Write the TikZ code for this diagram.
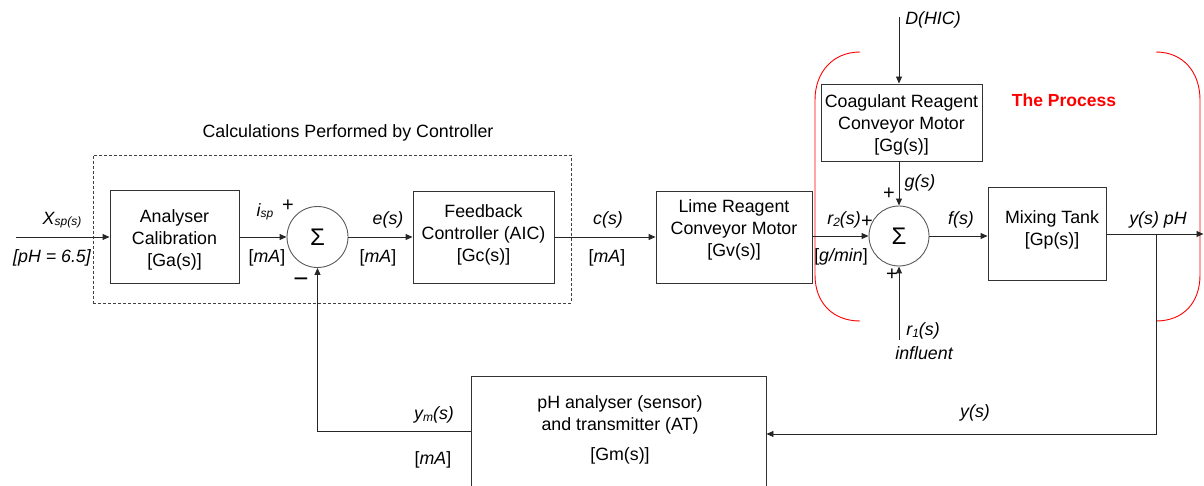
\documentclass[tikz,border=0pt]{standalone}
\usepackage{fontspec}
\setmainfont{Liberation Sans}
\usetikzlibrary{arrows.meta}
\newcommand\sumsign{{\fontsize{24}{24}\selectfont Σ}}
\newcommand\lowsub[1]{\raisebox{-1.5pt}{\fontsize{12}{12}\selectfont #1}}
\begin{document}
\begin{tikzpicture}[x=1pt,y=-1pt,
  every node/.style={font=\fontsize{17.8}{22}\selectfont, inner sep=0pt},
  blk/.style={draw=black!80, line width=0.9pt, align=center},
  sumnode/.style={circle, draw=black!65, line width=0.9pt, minimum size=61pt},
  wire/.style={draw=black!85, line width=0.9pt},
  arr/.style={wire, -{Triangle[length=7pt,width=6pt]}},
  lab/.style={font=\fontsize{17.8}{22}\selectfont\itshape},
  txt/.style={align=center},
  sgn/.style={font=\fontsize{20}{20}\selectfont},
  bracket/.style={draw=red, line width=0.9pt},
  dashbox/.style={draw=black!75, line width=0.8pt, dash pattern=on 3pt off 2pt}]
\useasboundingbox (0,0) rectangle (1204,486);
\clip (0,0) rectangle (1204,486);

% controller boundary
\node[dashbox, minimum width=478pt, minimum height=148pt] (calc) at (332,229) {};
\node (calctitle) at (348,133) {Calculations Performed by Controller};

% blocks
\node[blk, minimum width=129pt, minimum height=93pt] (ana) at (174.5,237) {};
\node[txt] (anatxt) at (174.5,239.5) {Analyser\\Calibration\\{[Ga(s)]}};
\node[sumnode] (s1) at (317.5,237) {\sumsign};
\node[blk, minimum width=141pt, minimum height=92pt] (fbc) at (483.5,237) {};
\node[txt] (fbctxt) at (483.5,234.5) {Feedback\\Controller (AIC)\\{[Gc(s)]}};
\node[blk, minimum width=156pt, minimum height=92pt] (lime) at (734,237) {};
\node[txt] (limetxt) at (734,230) {Lime Reagent\\Conveyor Motor\\{[Gv(s)]}};
\node[sumnode, minimum size=60pt] (s2) at (899,236) {\sumsign};
\node[blk, minimum width=161pt, minimum height=77pt] (coag) at (901.5,122.5) {};
\node[txt] (coagtxt) at (901.5,124.5) {Coagulant Reagent\\Conveyor Motor\\{[Gg(s)]}};
\node[blk, minimum width=118pt, minimum height=93pt] (mix) at (1047,234) {};
\node[txt] (mixtxt) at (1052,229.5) {Mixing Tank\\{[Gp(s)]}};
\node[blk, minimum width=295pt, minimum height=124pt] (pha) at (618.5,438) {};
\node[txt] (phatxt) at (620,430) {pH analyser (sensor)\\and transmitter (AT)\\[8pt]{[Gm(s)]}};

% the process boundary
\draw[bracket] (860,52) .. controls (833,52) and (815,72) .. (815,100) -- (815,275)
  .. controls (815,303) and (833,321) .. (860,321);
\draw[bracket] (1156,52) .. controls (1183,52) and (1200,72) .. (1200,100) -- (1200,275)
  .. controls (1200,303) and (1183,321) .. (1156,321);
\node[font=\fontsize{17.5}{20}\selectfont\bfseries, text=red] (proc) at (1064,100) {The Process};

% free ends
\coordinate (xin) at (16,237);
\coordinate (dtop) at (899,17);
\coordinate (rin) at (899,340);
\coordinate (yout) at (1203.5,234);
\coordinate (br) at (1156,234);
\coordinate (brl) at (1156,434);
\coordinate (fbl) at (317.5,431);

% signal paths
\draw[arr] (xin) -- (ana.west);
\draw[arr] (ana.east) -- (s1.west);
\draw[arr] (s1.east) -- (fbc.west);
\draw[arr] (fbc.east) -- (lime.west);
\draw[arr] (lime.east |- s2) -- (s2.west);
\draw[arr] (s2.east) -- (s2.east -| mix.west);
\draw[arr] (mix.east) -- (yout);
\draw[arr] (dtop) -- (dtop |- coag.north);
\draw[arr] (coag.south -| s2.north) -- (s2.north);
\draw[arr] (rin) -- (s2.south);
\draw[arr] (br) -- (brl) -- (brl -| pha.east);
\draw[arr] (fbl -| pha.west) -- (fbl) -- (s1.south);

% signal labels
\node[lab] (lxsp) at (62,220) {X\lowsub{sp(s)}};
\node[lab] (lph) at (52,258) {[pH = 6.5]};
\node[lab] (lisp) at (265,212) {i\lowsub{sp}};
\node[sgn] (p1) at (288,206) {+};
\node (lma1) at (267,258) {[\textit{mA}]};
\node[font=\fontsize{26}{26}\selectfont] (m1) at (301,283) {−};
\node[lab] (les) at (388,220) {e(s)};
\node (lma2) at (378,258) {[\textit{mA}]};
\node[lab] (lcs) at (608,220) {c(s)};
\node (lma3) at (607,258) {[\textit{mA}]};
\node[lab] (lr2) at (844,220) {r\lowsub{2}(s)};
\node[sgn] (p2) at (867,222) {+};
\node (lgm) at (841,257) {[\textit{g/min}]};
\node[sgn] (p3) at (889,194) {+};
\node[lab] (lgs) at (920,183) {g(s)};
\node[sgn] (p4) at (892,275) {+};
\node[lab] (lr1) at (923,331) {r\lowsub{1}(s)};
\node[lab] (linf) at (924,353) {influent};
\node[lab] (lfs) at (961,220) {f(s)};
\node[lab] (lys) at (1158,220) {y(s) pH};
\node[lab] (ldh) at (933,20) {D(HIC)};
\node[lab] (lym) at (434,415) {y\lowsub{m}(s)};
\node (lma4) at (433,460) {[\textit{mA}]};
\node[lab] (lyb) at (975,413) {y(s)};
\end{tikzpicture}
\end{document}
